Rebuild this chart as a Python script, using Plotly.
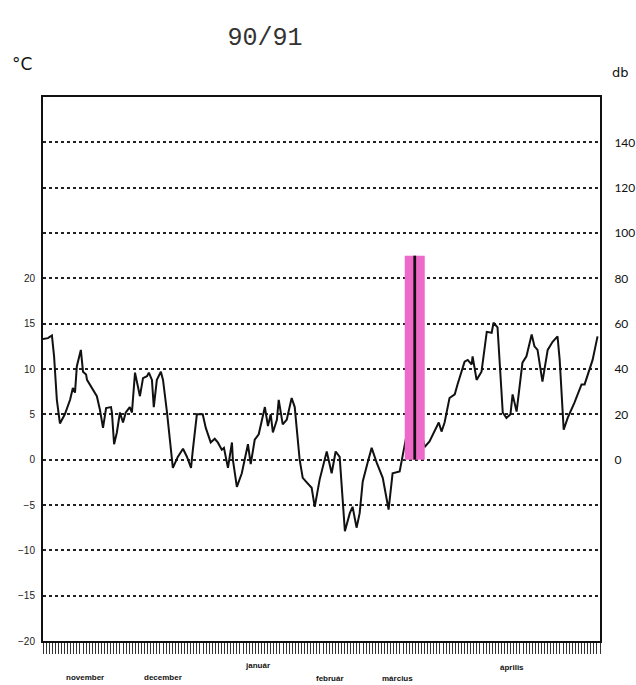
import plotly.graph_objects as go

# Day index counted from 1 November 1990 (season 90/91)
days = [0, 1.6, 2.9, 3.6, 4.5, 5.5, 7.1, 8.8, 9.7, 10.4, 11.0, 12.3, 13.0, 14.0, 14.3,
        15.9, 17.5, 18.5, 19.5, 20.5, 22.1, 22.4, 23.1, 24.0, 25.0, 26.0, 26.9, 28.2,
        28.9, 29.9, 31.5, 32.5, 33.8, 34.4, 35.4, 36.0, 37.0, 38.3, 39.0, 40.3, 41.2,
        42.2, 43.8, 45.5, 46.8, 48.1, 48.7, 50.0, 51.9, 52.9, 54.5, 55.8, 56.8, 58.1,
        58.8, 60.1, 61.4, 61.7, 63.0, 64.6, 66.6, 67.5, 68.8, 70.1, 72.1, 73.1, 74.0,
        74.7, 76.0, 76.6, 77.9, 79.2, 80.8, 81.8, 83.4, 84.4, 85.7, 87.3, 88.3, 89.9,
        92.2, 93.8, 95.1, 96.4, 98.1, 99.7, 100.6, 101.9, 102.9, 103.9, 105.5, 106.8,
        108.4, 110.4, 112.3, 113.6, 115.9, 117.5, 119.2, 120.1, 121.4, 122.7, 124.0,
        125.6, 127.9, 128.6, 129.5, 130.5, 132.1, 133.8, 134.7, 137.0, 138.0, 139.3,
        139.6, 140.9, 142.5, 144.2, 145.8, 146.4, 147.7, 149.4, 150.6, 151.9, 152.6,
        153.9, 155.8, 157.1, 158.8, 159.7, 160.7, 162.3, 164.0, 165.6, 167.2, 167.9,
        169.2, 170.5, 172.7, 175.0, 176.0, 177.6, 178.6, 180.2]
temps = [13.3, 13.4, 13.7, 11.4, 6.6, 4.0, 5.0, 6.6, 7.9, 7.4, 10.3, 12.1, 9.7, 9.4, 8.8,
         7.9, 7.0, 5.5, 3.5, 5.7, 5.8, 5.2, 1.7, 3.0, 5.2, 4.1, 5.2, 5.8,
         5.2, 9.6, 7.0, 9.0, 9.2, 9.6, 8.8, 5.8, 8.8, 9.7, 8.8, 5.2, 1.9,
         -0.9, 0.3, 1.2, 0.3, -0.9, 1.1, 5.0, 5.0, 3.5, 1.9, 2.3, 1.9, 1.1,
         1.3, -0.9, 1.9, 0.0, -3.0, -1.5, 1.7, -0.5, 2.2, 2.8, 5.8, 3.7, 5.0,
         3.0, 4.4, 6.6, 3.9, 4.4, 6.8, 5.8, 0.0, -2.0, -2.5, -3.1, -5.2, -2.2,
         0.9, -1.5, 0.9, 0.3, -7.9, -5.9, -5.2, -7.5, -5.9, -2.4, -0.3, 1.3,
         -0.3, -2.0, -5.5, -1.5, -1.3, 1.4, 4.6, 5.2, 3.7, 3.5, 1.4,
         2.0, 3.7, 4.1, 3.1, 4.1, 6.8, 7.2, 8.3, 10.8, 11.0, 10.5,
         11.4, 8.8, 9.7, 14.1, 14.0, 15.1, 14.6, 5.2, 4.6, 5.0, 7.2,
         5.3, 10.7, 11.4, 13.8, 12.5, 12.1, 8.6, 12.1, 13.0, 13.6, 11.0,
         3.3, 4.6, 6.3, 8.3, 8.3, 9.9, 11.0, 13.6]

event_day = [120.8]
event_db = [90]

month_names = ["november", "december", "január", "február", "március", "április"]
month_label_days = [13.6, 39.0, 69.8, 93.2, 115.3, 152.3]

temp_ticks = [-20, -15, -10, -5, 0, 5, 10, 15, 20]
temp_grid = [-20, -15, -10, -5, 0, 5, 10, 15, 20, 25, 30, 35]
db_ticks = [0, 20, 40, 60, 80, 100, 120, 140]

fig = go.Figure()

fig.add_trace(go.Bar(x=event_day, y=event_db, yaxis="y2", width=6.5,
                     marker=dict(color="#ee6ac9", line=dict(width=0)),
                     showlegend=False, hoverinfo="skip"))
fig.add_trace(go.Bar(x=event_day, y=event_db, yaxis="y2", width=0.9,
                     marker=dict(color="#111111", line=dict(width=0)),
                     showlegend=False))
fig.add_trace(go.Scatter(x=days, y=temps, mode="lines",
                         line=dict(color="#111111", width=2), showlegend=False))

ticktext_left = [(str(v).replace("-", "\u2212") if v in temp_ticks else "") for v in temp_grid]

fig.update_layout(
    width=636, height=685,
    margin=dict(l=43, r=36, t=97, b=44, autoexpand=False),
    paper_bgcolor="white", plot_bgcolor="white",
    barmode="overlay",
    title=dict(text="90/91", x=265 / 636, xref="container", xanchor="center",
               y=1 - 36 / 685, yanchor="middle",
               font=dict(family="Liberation Mono", size=25, color="#333333")),
    xaxis=dict(range=[0, 181], showgrid=False, zeroline=False,
               showline=True, linecolor="#111111", linewidth=2, mirror=True,
               ticks="outside", tickmode="linear", tick0=0, dtick=1,
               ticklen=11, tickwidth=1, tickcolor="#333333",
               showticklabels=False),
    yaxis=dict(range=[-20, 40], tickmode="array", tickvals=temp_grid,
               ticktext=ticktext_left, showgrid=True, gridcolor="#222222",
               gridwidth=1.5, griddash="dot", zeroline=False,
               showline=True, linecolor="#111111", linewidth=2,
               ticks="", ticklabelstandoff=4,
               tickfont=dict(family="Liberation Sans", size=10, color="#222222")),
    yaxis2=dict(range=[-80, 160], overlaying="y", side="right",
                tickmode="array", tickvals=db_ticks,
                ticktext=[str(v) for v in db_ticks],
                showgrid=False, zeroline=False, showline=True,
                linecolor="#111111", linewidth=2, ticks="", ticklabelstandoff=10,
                tickfont=dict(family="Lato", size=12, color="#111111")),
    annotations=[
        dict(text="°C", xref="paper", yref="paper", x=(22 - 43) / 557, y=(641 - 64) / 544,
             xanchor="center", yanchor="middle",
             showarrow=False, font=dict(family="DejaVu Sans", size=17, color="#111111")),
        dict(text="db", xref="paper", yref="paper", x=(620 - 43) / 557, y=(641 - 73) / 544,
             xanchor="center", yanchor="middle",
             showarrow=False, font=dict(family="DejaVu Sans", size=13, color="#111111")),
    ],
)

label_px_y = [677, 677, 665, 678, 678, 667]
for name, d, py in zip(month_names, month_label_days, label_px_y):
    fig.add_annotation(text="<b>" + name + "</b>", x=d, y=(641 - py) / 544,
                       xref="x", yref="paper",
                       showarrow=False, yanchor="middle", xanchor="center",
                       font=dict(family="Liberation Sans", size=8, color="#111111"))

fig.write_html("out.html", config={"displayModeBar": False})

with open("out.html", "r", encoding="utf-8") as f:
    html = f.read()
html = html.replace("<head>", "<head><style>html,body{margin:0;padding:0;overflow:hidden;}</style>", 1)
with open("out.html", "w", encoding="utf-8") as f:
    f.write(html)
